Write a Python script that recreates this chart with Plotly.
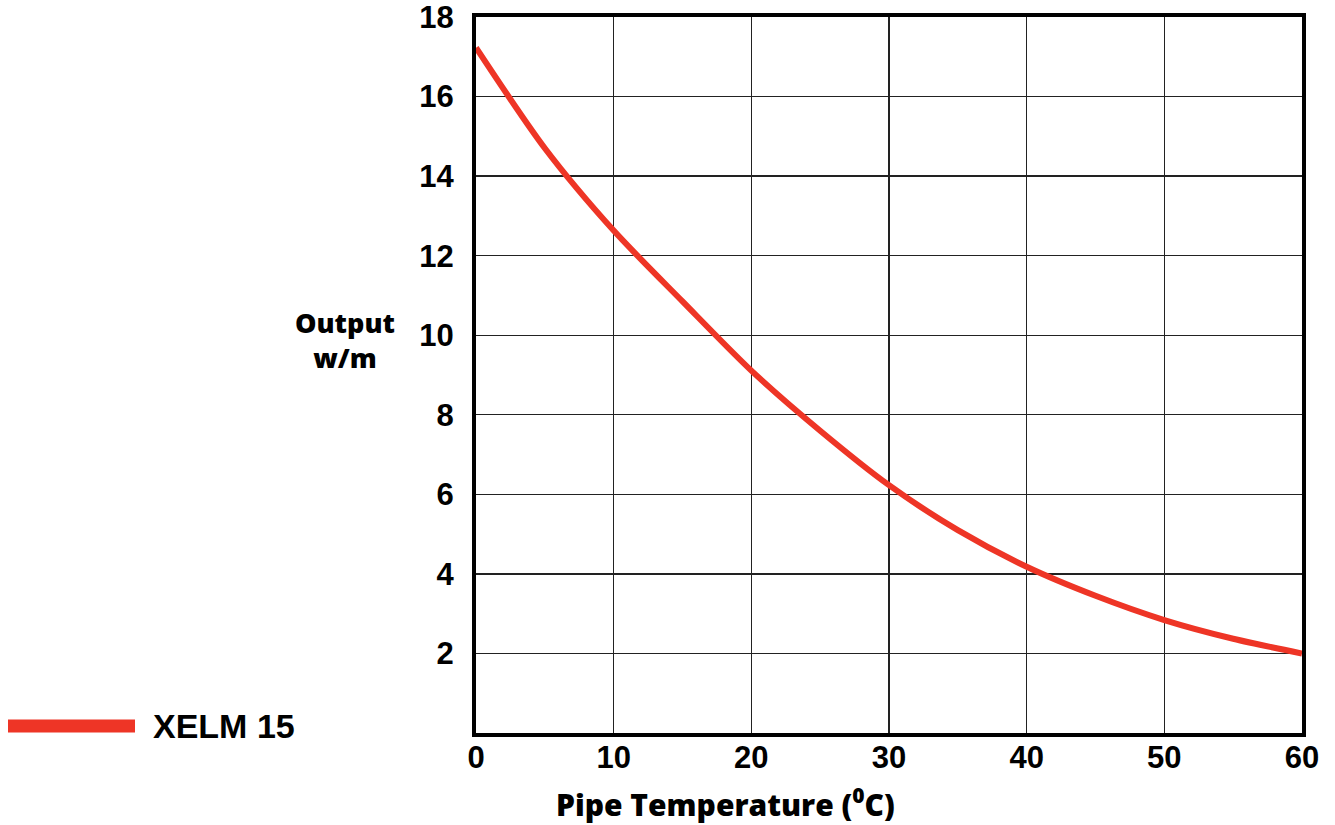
import plotly.graph_objects as go

# Data
pipe_temp_c = [0, 5, 10, 15, 20, 25, 30, 35, 40, 45, 50, 55, 60]
output_w_per_m = [17.23, 14.7, 12.63, 10.85, 9.11, 7.6, 6.23, 5.1, 4.18, 3.45, 2.84, 2.37, 2.0]
series_name = "XELM 15"
x_ticks = [0, 10, 20, 30, 40, 50, 60]
y_ticks = [2, 4, 6, 8, 10, 12, 14, 16, 18]

RED = "#ee3526"
TICK_FONT = dict(family="Liberation Sans, Arial, sans-serif", size=31, color="black", weight="bold")
HEAVY = dict(family="Open Sans, sans-serif", color="black", weight=800)

# reference plot box (pixels) used to place decorations in paper coordinates
PX0, PX1, PY0, PY1 = 476, 1302, 17, 733


def px(x):
    return (x - PX0) / (PX1 - PX0)


def py(y):
    return (PY1 - y) / (PY1 - PY0)


fig = go.Figure()
fig.add_trace(go.Scatter(
    x=pipe_temp_c, y=output_w_per_m, mode="lines", name=series_name,
    line=dict(color=RED, width=6, shape="spline", smoothing=0.8),
    showlegend=False, cliponaxis=False, hoverinfo="skip",
))

fig.update_layout(
    width=1335, height=825,
    margin=dict(l=PX0, r=1335 - PX1, t=PY0, b=825 - PY1, autoexpand=False),
    paper_bgcolor="white", plot_bgcolor="white",
    hovermode=False,
    xaxis=dict(
        range=[0, 60], tickvals=x_ticks, ticktext=[str(v) for v in x_ticks],
        showgrid=True, gridcolor="#222222", gridwidth=1.3,
        showline=True, linecolor="black", linewidth=4, mirror=True,
        tickfont=TICK_FONT, zeroline=False, ticks="", ticklabelstandoff=-6,
        ticklabeloverflow="allow", automargin=False, fixedrange=True,
    ),
    yaxis=dict(
        range=[0, 18], tickvals=y_ticks, ticktext=[str(v) for v in y_ticks],
        showgrid=True, gridcolor="#222222", gridwidth=1.3,
        showline=True, linecolor="black", linewidth=4, mirror=True,
        tickfont=TICK_FONT, zeroline=False, ticks="", ticklabelstandoff=12,
        ticklabeloverflow="allow", automargin=False, fixedrange=True,
    ),
    annotations=[
        dict(text="Pipe Temperature (<sup>0</sup>C)", xref="paper", yref="paper",
             x=px(725), y=py(803), xanchor="center", yanchor="middle",
             showarrow=False, font=dict(HEAVY, size=30)),
        dict(text="Output<br>w/m", xref="paper", yref="paper",
             x=px(345), y=py(340), xanchor="center", yanchor="middle",
             showarrow=False, font=dict(HEAVY, size=27), align="center"),
        dict(text=series_name, xref="paper", yref="paper",
             x=px(151), y=py(726), xanchor="left", yanchor="middle",
             showarrow=False, font=dict(TICK_FONT, size=34)),
    ],
    shapes=[
        dict(type="line", xref="paper", yref="paper",
             x0=px(8), x1=px(135), y0=py(726), y1=py(726),
             line=dict(color=RED, width=13)),
    ],
)

fig.write_html(
    "out.html",
    config={"displayModeBar": False, "staticPlot": True},
    post_script="document.body.style.margin='0px';document.body.style.overflow='hidden';",
)
